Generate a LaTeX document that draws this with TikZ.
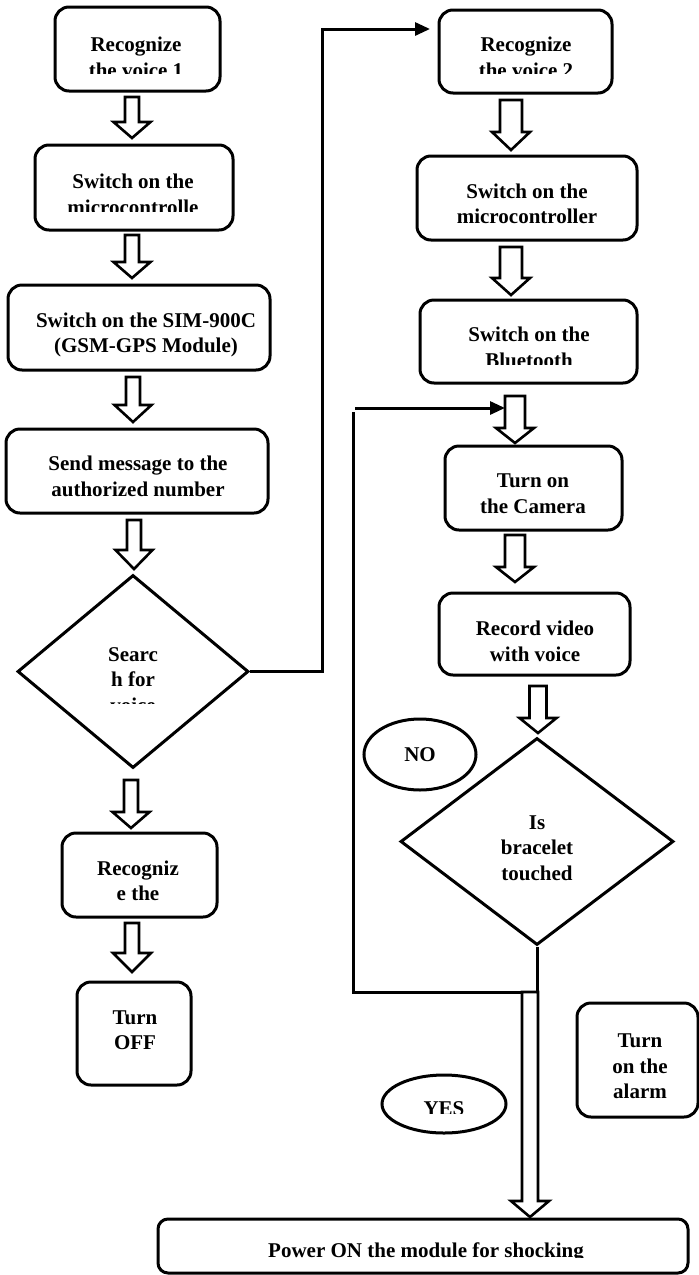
\documentclass[tikz,border=0pt]{standalone}
\usepackage{fontspec}
\setmainfont{Liberation Serif}
\usetikzlibrary{shapes.geometric,arrows.meta}
\newcommand\hollowarrow[6]{%
  \draw[hollow] (#1-#5,#2) -- (#1+#5,#2) -- (#1+#5,#3) -- (#1+#6,#3) -- (#1,#4) -- (#1-#6,#3) -- (#1-#5,#3) -- cycle;}
\begin{document}
\begin{tikzpicture}[x=1pt,y=-1pt,
  box/.style={draw, line width=3pt, rounded corners=14pt, inner sep=0pt, fill=white},
  dia/.style={draw, line width=3pt, diamond, inner sep=0pt, fill=white},
  ell/.style={draw, line width=3pt, ellipse, inner sep=0pt},
  txt/.style={font=\bfseries\fontsize{21}{25.5}\selectfont, align=center, inner sep=0pt},
  hollow/.style={line width=2.6pt, line join=miter, fill=white},
  conn/.style={line width=3pt, -{Triangle[length=15pt,width=13pt]}}]
\useasboundingbox (0,0) rectangle (699,1275);

% left column boxes
\node[box, minimum width=165pt, minimum height=84pt] (b1) at (137.5,49) {};
\node[box, minimum width=198pt, minimum height=85pt] (b2) at (134,187.5) {};
\node[box, minimum width=262pt, minimum height=85pt] (b3) at (139,327.5) {};
\node[box, minimum width=262pt, minimum height=84pt] (b4) at (137,471) {};
\node[dia, minimum width=231pt, minimum height=193pt] (d1) at (133,671.5) {};
\node[box, minimum width=155pt, minimum height=84pt] (b5) at (139.5,875) {};
\node[box, minimum width=114pt, minimum height=103pt] (b6) at (134,1033.5) {};

% right column boxes
\node[box, minimum width=173pt, minimum height=83pt] (r1) at (525.5,51.5) {};
\node[box, minimum width=220pt, minimum height=84pt] (r2) at (527,198) {};
\node[box, minimum width=217pt, minimum height=83pt] (r3) at (528.5,341.5) {};
\node[box, minimum width=177pt, minimum height=84pt] (cam) at (533.5,488) {};
\node[box, minimum width=191pt, minimum height=82pt] (rec) at (534.5,634) {};
\node[dia, minimum width=273pt, minimum height=207pt] (d2) at (537,841.5) {};
\node[ell, minimum width=112pt, minimum height=71pt] (no) at (420,754.5) {};
\node[box, minimum width=121pt, minimum height=114pt] (alarm) at (637.5,1060) {};
\node[ell, minimum width=124pt, minimum height=58pt] (yes) at (444,1104) {};
\node[box, rounded corners=10pt, minimum width=530pt, minimum height=54pt] (power) at (423,1246) {};

% texts
\begin{scope}\clip (0,0) rectangle (699,73);
  \node[txt] (t1) at (136,57.5) {Recognize\\the voice 1};
  \node[txt] (tr1) at (526,57.5) {Recognize\\the voice 2};
\end{scope}
\begin{scope}\clip (0,150) rectangle (699,211);
  \node[txt] (t2) at (133,194.5) {Switch on the\\microcontrolle};
\end{scope}
\node[txt] (t3) at (146,335) {Switch on the SIM-900C\\(GSM-GPS Module)};
\node[txt] (t4) at (138,476.5) {Send message to the\\authorized number};
\begin{scope}\clip (0,600) rectangle (699,703);
  \node[txt] (td1) at (133,680) {Searc\\h for\\voice};
\end{scope}
\node[txt] (t5) at (138,881) {Recogniz\\e the};
\node[txt] (t6) at (135,1030) {Turn\\OFF};
\node[txt] (tr2) at (527,204) {Switch on the\\microcontroller};
\begin{scope}\clip (0,300) rectangle (699,364);
  \node[txt] (tr3) at (529,347.5) {Switch on the\\Bluetooth};
\end{scope}
\node[txt] (tcam) at (533,493.5) {Turn on\\the Camera};
\node[txt] (trec) at (535,641.5) {Record video\\with voice};
\node[txt] (td2) at (537,848) {Is\\bracelet\\touched};
\node[txt] (tno) at (420,755) {NO};
\node[txt] (talarm) at (640,1066.5) {Turn\\on the\\alarm};
\begin{scope}\clip (0,1080) rectangle (699,1113);
  \node[txt] (tyes) at (444,1109) {YES};
\end{scope}
\begin{scope}\clip (0,1225) rectangle (699,1257);
  \node[txt] (tpower) at (426,1252) {Power ON the module for shocking};
\end{scope}

% hollow block arrows (left column)
\hollowarrow{132}{97}{122}{138}{7}{18.5}
\hollowarrow{132}{235}{262}{278}{7}{18.5}
\hollowarrow{133}{377}{405}{422}{7}{18.5}
\hollowarrow{134}{520}{550}{569}{7}{18.5}
\hollowarrow{131}{780}{812}{828}{7}{18.5}
\hollowarrow{132}{923}{953}{972}{7}{19}
% right column
\hollowarrow{511}{100}{132}{150}{11}{19}
\hollowarrow{511}{247}{278}{295}{11}{19}
\hollowarrow{515}{396}{428}{443}{10}{19}
\hollowarrow{515}{535}{567}{582}{10}{19}
\hollowarrow{538}{686}{718}{733}{8.5}{18.5}

% connectors
\coordinate (r1in) at (430,29);
\coordinate (loopin) at (505,408);
\coordinate (loopbot) at (537,992);
\draw[conn] (d1.east) -| (322,29) -- (r1in);
\draw[line width=3pt] (d2.south) -- (loopbot) -- (353,992) -- (353,412);
\draw[conn] (355,408) -- (loopin);

% big hollow arrow to power box
\hollowarrow{530}{992}{1201}{1217}{8}{19}
\end{tikzpicture}
\end{document}
